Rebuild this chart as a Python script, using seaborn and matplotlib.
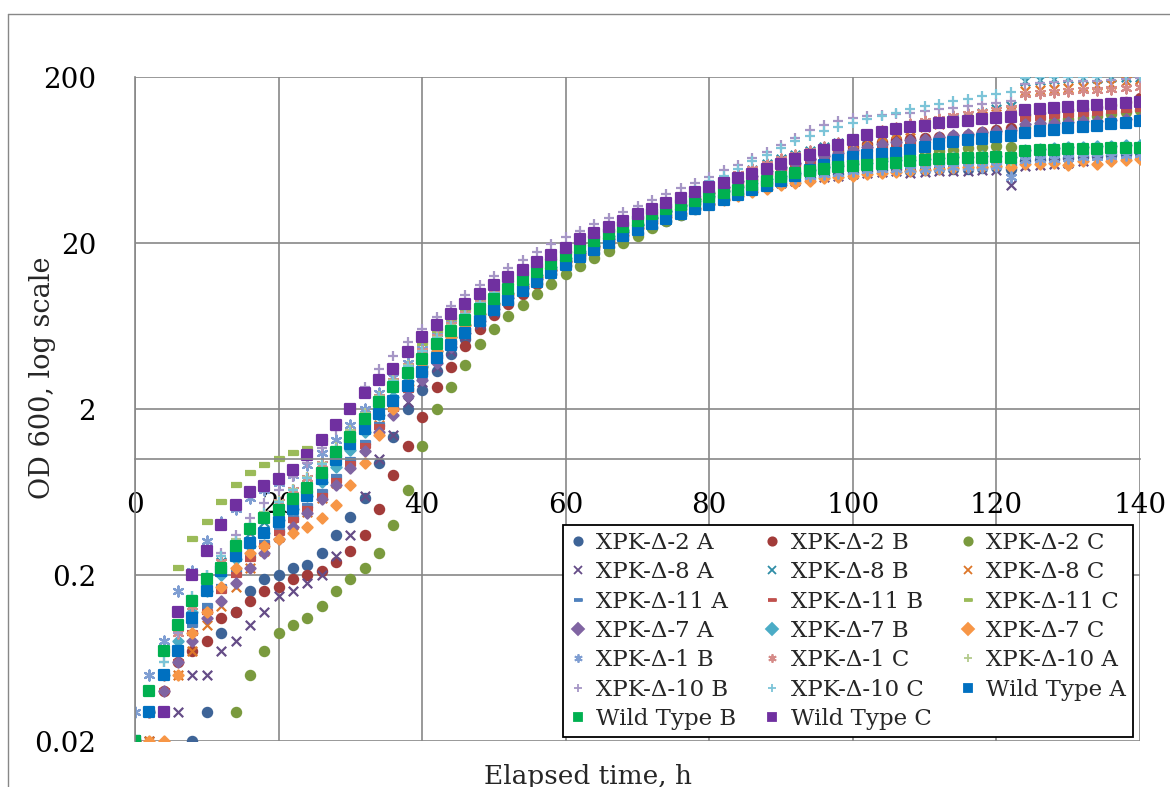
import pandas as pd
import matplotlib
matplotlib.use("Agg")
import matplotlib.pyplot as plt
import seaborn as sns
from matplotlib.ticker import NullLocator
from matplotlib.lines import Line2D

# elapsed time, h (one reading every 2 h)
hours = list(range(0, 141, 2))

# OD 600 readings (values under 0.02 fall outside the axis and are not shown)
xpk2_a = [0.01, 0.01, 0.01, 0.01, 0.02, 0.03, 0.09, 0.12, 0.16, 0.19,
          0.2, 0.22, 0.23, 0.27, 0.35, 0.45, 0.58, 0.95, 1.35, 2.0,
          2.6, 3.4, 4.3, 5.3, 6.4, 7.6, 8.8, 10, 11.5, 13,
          14.5, 16, 17.5, 19, 21, 23, 25, 27, 29.5, 32,
          34.5, 37, 39.5, 42, 44, 46, 47.5, 49, 50.5, 52,
          53, 54, 55, 55.5, 54, 55, 55.5, 56, 56, 56.5,
          57, 56, 62, 63, 64, 65, 66, 67, 68, 69,
          70]
xpk2_b = [0.02, 0.03, 0.04, 0.06, 0.07, 0.08, 0.11, 0.12, 0.14, 0.16,
          0.17, 0.19, 0.2, 0.21, 0.24, 0.28, 0.35, 0.5, 0.8, 1.2,
          1.8, 2.7, 3.6, 4.8, 6.1, 7.4, 8.6, 9.9, 11.3, 13,
          14.8, 16.5, 18.3, 20, 22, 24.5, 27, 29.5, 32, 35,
          38, 41, 44, 48, 52, 56, 60, 64, 68, 72,
          76, 79, 81, 83, 85, 86, 87, 88, 90, 93,
          96, 99, 118, 121, 123, 126, 129, 132, 136, 142,
          150]
xpk2_c = [0.01, 0.01, 0.01, 0.01, 0.01, 0.01, 0.01, 0.03, 0.05, 0.07,
          0.09, 0.1, 0.11, 0.13, 0.16, 0.19, 0.22, 0.27, 0.4, 0.65,
          1.2, 2.0, 2.7, 3.7, 4.9, 6.1, 7.3, 8.5, 9.8, 11.3,
          13, 14.5, 16.2, 18, 20, 22, 24.5, 27, 29.5, 32,
          34.5, 37, 40, 43, 46, 49, 52, 55, 57, 59,
          61, 63, 65, 66, 66, 69, 72, 73, 75, 76,
          77, 76, 100, 104, 108, 111, 114, 117, 120, 123,
          126]
xpk8_a = [0.02, 0.02, 0.03, 0.03, 0.05, 0.05, 0.07, 0.08, 0.1, 0.12,
          0.15, 0.16, 0.18, 0.2, 0.26, 0.35, 0.6, 1.0, 1.4, 2.2,
          2.9, 3.6, 4.5, 5.5, 6.5, 7.7, 9, 10.3, 11.8, 13.5,
          15.5, 17, 19, 21, 23, 25, 27, 29, 31, 33,
          35, 37.5, 40, 42, 44, 46, 47.5, 49, 50, 51,
          52, 53, 53.5, 54, 53, 53.5, 54, 54, 54.5, 55,
          55, 45, 58, 59, 60, 61, 62, 63, 65, 67,
          69]
xpk8_b = [0.02, 0.04, 0.07, 0.1, 0.14, 0.19, 0.24, 0.3, 0.36, 0.42,
          0.48, 0.56, 0.66, 0.8, 1.0, 1.3, 1.7, 2.2, 2.8, 3.5,
          4.3, 5.2, 6.2, 7.3, 8.5, 9.8, 11, 12.5, 14, 15.8,
          17.5, 19.5, 21.5, 23.5, 25.5, 28, 30.5, 33, 36, 39,
          43, 47, 51, 55, 60, 64, 68, 72, 76, 80,
          84, 88, 92, 96, 100, 104, 108, 112, 117, 122,
          128, 133, 190, 192, 195, 196, 197, 198, 199, 200,
          200]
xpk8_c = [0.02, 0.02, 0.03, 0.05, 0.07, 0.1, 0.13, 0.17, 0.22, 0.28,
          0.34, 0.4, 0.48, 0.58, 0.72, 0.92, 1.2, 1.6, 2.1, 2.7,
          3.4, 4.2, 5.1, 6.1, 7.2, 8.4, 9.7, 11, 12.5, 14,
          16, 18, 20, 22, 24, 26.5, 29, 31.5, 34, 37,
          40, 44, 48, 52, 56, 60, 64, 68, 72, 76,
          80, 84, 88, 92, 96, 100, 104, 108, 112, 116,
          120, 124, 165, 168, 170, 172, 175, 178, 182, 188,
          195]
xpk11_a = [0.02, 0.03, 0.05, 0.07, 0.1, 0.13, 0.17, 0.21, 0.26, 0.31,
           0.37, 0.44, 0.52, 0.63, 0.78, 0.98, 1.25, 1.6, 2.0, 2.6,
           3.3, 4.1, 5.0, 6.0, 7.0, 8.2, 9.4, 10.7, 12, 13.5,
           15.5, 17, 19, 21, 23, 25, 27.5, 30, 32.5, 35,
           37.5, 40, 42, 44, 46, 48, 50, 52, 53.5, 55,
           56, 57, 58, 58.5, 58, 59, 59.5, 60, 60.5, 61,
           61, 60, 66, 67, 67.5, 68, 68.5, 69, 70, 71,
           72]
xpk11_b = [0.02, 0.03, 0.04, 0.06, 0.09, 0.12, 0.16, 0.2, 0.25, 0.3,
           0.36, 0.43, 0.5, 0.6, 0.74, 0.93, 1.2, 1.55, 2.0, 2.6,
           3.3, 4.1, 5.0, 6.0, 7.1, 8.3, 9.6, 11, 12.4, 14,
           15.8, 17.5, 19.5, 21.5, 23.5, 26, 28.5, 31, 33.5, 36.5,
           39.5, 42.5, 46, 49, 52, 55, 58, 61, 64, 67,
           70, 73, 76, 78, 80, 82, 84, 86, 88, 90,
           92, 93, 112, 114, 116, 118, 120, 122, 124, 126,
           128]
xpk11_c = [0.02, 0.03, 0.07, 0.22, 0.33, 0.42, 0.55, 0.7, 0.82, 0.92,
           1.0, 1.08, 1.15, 1.3, 1.6, 2.0, 2.5, 3.0, 3.6, 4.3,
           5.0, 5.9, 6.9, 7.9, 9.0, 10.2, 11.5, 13, 14.5, 16,
           17.5, 19.5, 21.5, 23.5, 25.5, 28, 30, 32.5, 35, 37.5,
           40, 42.5, 45, 47, 49.5, 52, 54, 56, 58, 60,
           61, 62, 63, 64, 64, 65, 66, 66.5, 67, 67.5,
           68, 67, 73, 74, 74, 75, 75, 76, 76, 77,
           77]
xpk7_a = [0.02, 0.03, 0.04, 0.06, 0.08, 0.11, 0.14, 0.18, 0.22, 0.27,
          0.33, 0.39, 0.47, 0.57, 0.7, 0.88, 1.12, 1.45, 1.85, 2.4,
          3.0, 3.8, 4.7, 5.7, 6.8, 8.0, 9.3, 10.7, 12.2, 13.8,
          15.5, 17.3, 19.2, 21.2, 23.4, 25.8, 28.3, 31, 34, 37,
          40, 43.5, 47, 50.5, 54, 57.5, 61, 64, 67, 70,
          73, 76, 79, 81, 83, 85, 87, 89, 91, 93,
          95, 96, 104, 105, 106, 107, 108, 109, 110, 111,
          112]
xpk7_b = [0.02, 0.03, 0.05, 0.08, 0.12, 0.16, 0.2, 0.25, 0.3, 0.36,
          0.43, 0.5, 0.6, 0.73, 0.9, 1.13, 1.45, 1.85, 2.35, 2.95,
          3.65, 4.5, 5.4, 6.4, 7.5, 8.7, 10, 11.4, 12.8, 14.4,
          16.2, 18, 20, 22, 24, 26, 28.5, 31, 33.5, 36,
          38.5, 41, 43.5, 46, 48.5, 51, 53, 55, 57, 58.5,
          60, 61, 62, 63, 63, 64, 65, 65.5, 66, 66.5,
          67, 66, 73, 74, 75, 76, 76, 77, 77, 78,
          78]
xpk7_c = [0.02, 0.02, 0.02, 0.05, 0.09, 0.12, 0.17, 0.22, 0.27, 0.3,
          0.33, 0.36, 0.39, 0.44, 0.53, 0.7, 0.95, 1.4, 2.0, 2.8,
          3.6, 4.5, 5.4, 6.4, 7.5, 8.6, 9.8, 11, 12.4, 13.8,
          15.3, 17, 18.8, 20.6, 22.5, 24.5, 26.5, 28.5, 30.5, 32.5,
          34.5, 36.5, 38.5, 40.5, 42.5, 44.5, 46, 47.5, 49, 50,
          51, 52, 53, 53.5, 54, 55, 56, 56.5, 57, 57.5,
          58, 57, 60, 60, 61, 59, 62, 60, 62, 63,
          64]
xpk1_b = [0.03, 0.05, 0.08, 0.16, 0.21, 0.32, 0.42, 0.5, 0.58, 0.65,
          0.72, 0.8, 0.92, 1.08, 1.3, 1.6, 2.0, 2.5, 3.1, 3.8,
          4.6, 5.5, 6.5, 7.5, 8.6, 9.8, 11, 12.3, 13.7, 15.2,
          16.8, 18.5, 20.3, 22.2, 24.2, 26.3, 28.5, 30.8, 33, 35.3,
          37.5, 39.5, 41.5, 43.5, 45.5, 47.5, 49, 50.5, 52, 53,
          54, 55, 55.5, 56, 55.5, 56, 56.5, 57, 57, 57.5,
          58, 50, 63, 64, 64.5, 65, 65.5, 66, 67, 68,
          69]
xpk1_c = [0.02, 0.03, 0.05, 0.09, 0.13, 0.18, 0.24, 0.3, 0.38, 0.46,
          0.55, 0.65, 0.77, 0.93, 1.15, 1.45, 1.85, 2.35, 2.95, 3.65,
          4.5, 5.4, 6.4, 7.5, 8.7, 10, 11.4, 12.8, 14.3, 16,
          17.8, 19.8, 21.8, 24, 26.3, 28.7, 31.2, 34, 37, 40.5,
          44, 48, 52, 56, 60, 64, 68, 72, 76, 80,
          84, 89, 94, 99, 104, 108, 112, 116, 119, 123,
          127, 131, 158, 160, 162, 164, 166, 168, 170, 172,
          174]
xpk10_a = [0.02, 0.03, 0.06, 0.1, 0.15, 0.2, 0.26, 0.33, 0.4, 0.48,
           0.56, 0.66, 0.78, 0.95, 1.18, 1.5, 1.9, 2.4, 3.0, 3.7,
           4.5, 5.4, 6.4, 7.5, 8.7, 10, 11.4, 12.9, 14.5, 16.2,
           18, 20, 22, 24, 26, 28.2, 30.4, 32.7, 35, 37.3,
           39.6, 42, 44.3, 46.6, 49, 51, 53, 55, 57, 59,
           60.5, 62, 63, 64, 64, 65, 65.5, 66, 66.5, 67,
           67, 62, 72, 73, 73.5, 74, 74.5, 75, 75.5, 76,
           76]
xpk10_b = [0.02, 0.03, 0.05, 0.09, 0.14, 0.2, 0.27, 0.35, 0.44, 0.54,
           0.65, 0.78, 0.95, 1.17, 1.5, 2.0, 2.7, 3.5, 4.2, 5.1,
           6.1, 7.2, 8.4, 9.7, 11.1, 12.6, 14.2, 15.9, 17.7, 19.6,
           21.6, 23.7, 25.9, 28.2, 30.7, 33.3, 36.2, 39.3, 42.6, 46.2,
           50, 55, 59, 65, 71, 78, 86, 96, 103, 108,
           113, 116, 118, 120, 122, 125, 128, 131, 134, 137,
           140, 143, 182, 184, 186, 188, 189, 190, 192, 194,
           196]
xpk10_c = [0.02, 0.03, 0.06, 0.1, 0.15, 0.2, 0.26, 0.32, 0.39, 0.47,
           0.55, 0.65, 0.77, 0.93, 1.15, 1.45, 1.85, 2.35, 2.95, 3.65,
           4.45, 5.35, 6.35, 7.45, 8.65, 9.95, 11.3, 12.8, 14.4, 16.1,
           17.9, 19.8, 21.8, 24, 26.4, 29, 31.8, 34.8, 38, 42,
           47, 51, 56, 62, 68, 75, 82, 88, 94, 100,
           106, 111, 116, 122, 128, 133, 138, 143, 148, 153,
           158, 163, 198, 199, 200, 200, 201, 201, 202, 202,
           203]
wild_a = [0.02, 0.03, 0.05, 0.07, 0.11, 0.16, 0.21, 0.26, 0.31, 0.36,
          0.42, 0.5, 0.6, 0.76, 0.98, 1.23, 1.52, 1.86, 2.25, 2.75,
          3.35, 4.05, 4.85, 5.75, 6.75, 7.85, 9.05, 10.3, 11.7, 13.2,
          14.8, 16.5, 18.2, 20, 22, 24, 26, 28, 30, 32,
          34, 36.5, 39, 41.5, 44, 47, 51, 55, 59, 63,
          66, 68, 69, 70, 73, 76, 79, 81, 83, 85,
          87, 88, 92, 94, 96, 98, 100, 102, 104, 106,
          108]
wild_b = [0.02, 0.04, 0.07, 0.1, 0.14, 0.19, 0.22, 0.3, 0.38, 0.44,
          0.49, 0.57, 0.67, 0.82, 1.1, 1.35, 1.75, 2.2, 2.7, 3.3,
          4.0, 4.9, 5.9, 6.9, 8.0, 9.2, 10.5, 11.9, 13.4, 15,
          16.8, 18.7, 20.7, 22.8, 25, 27.3, 29.7, 32, 34, 36,
          38, 40, 42, 44.5, 47, 50, 52.5, 54.5, 56, 57,
          58, 59, 60, 61, 62, 63, 64, 64.5, 65, 65,
          65.5, 65, 72, 72.5, 73, 73.5, 74, 74, 74.5, 75,
          75]
wild_c = [0.01, 0.01, 0.03, 0.12, 0.2, 0.28, 0.4, 0.53, 0.63, 0.69,
          0.76, 0.86, 1.05, 1.3, 1.6, 2.0, 2.5, 3.0, 3.5, 4.4,
          5.4, 6.4, 7.5, 8.6, 9.8, 11.1, 12.4, 13.8, 15.3, 16.9,
          18.6, 21, 23, 25, 27.3, 29.7, 32.2, 34.8, 37.5, 40.3,
          43.2, 46, 49, 52, 56, 60, 64, 68, 73, 78,
          84, 89, 93, 97, 100, 102, 105, 107, 109, 111,
          113, 115, 127, 128, 130, 132, 134, 135, 137, 139,
          141]

strains = ["XPK-Δ-2 A", "XPK-Δ-2 B", "XPK-Δ-2 C",
           "XPK-Δ-8 A", "XPK-Δ-8 B", "XPK-Δ-8 C",
           "XPK-Δ-11 A", "XPK-Δ-11 B", "XPK-Δ-11 C",
           "XPK-Δ-7 A", "XPK-Δ-7 B", "XPK-Δ-7 C",
           "XPK-Δ-1 B", "XPK-Δ-1 C", "XPK-Δ-10 A",
           "XPK-Δ-10 B", "XPK-Δ-10 C", "Wild Type A",
           "Wild Type B", "Wild Type C"]
readings = [xpk2_a, xpk2_b, xpk2_c, xpk8_a, xpk8_b, xpk8_c,
            xpk11_a, xpk11_b, xpk11_c, xpk7_a, xpk7_b, xpk7_c,
            xpk1_b, xpk1_c, xpk10_a, xpk10_b, xpk10_c,
            wild_a, wild_b, wild_c]

colors = ["#3E6497", "#A23B39", "#7A9A3E", "#654C87", "#2F8DA6", "#DD7628",
          "#4F81BD", "#C0504D", "#9BBB59", "#8064A2", "#4BACC6", "#F79646",
          "#7F9ED2", "#D58B88", "#B3CA8C", "#A696C6", "#7CC4D8",
          "#0070C0", "#00B050", "#7030A0"]
dash = [(-1, -0.32), (1, -0.32), (1, 0.32), (-1, 0.32)]
star = (6, 2, 0)
markers = ["o", "o", "o", "x", "x", "x", dash, dash, dash, "D", "D", "D",
           star, star, "+", "+", "+", "s", "s", "s"]
msize = {"o": 44, "x": 46, "D": 27, "+": 62, "s": 44, "dash": 58, "star": 52}

df = pd.DataFrame({
    "hours": hours * len(strains),
    "od": [v for r in readings for v in r],
    "strain": [s for s in strains for _ in hours],
})

sns.set_theme(style="white")
plt.rcParams["font.family"] = ["DejaVu Serif", "DejaVu Sans"]

fig = plt.figure(figsize=(11.7, 7.87), dpi=100)
ax = fig.add_axes([135 / 1170, 1 - 741 / 787, 1005 / 1170, 664 / 787])

for name, col, mk in zip(strains, colors, markers):
    sub = df[df["strain"] == name]
    key = mk if isinstance(mk, str) else ("dash" if isinstance(mk, list) else "star")
    sns.scatterplot(data=sub, x="hours", y="od", ax=ax, color=col, marker=mk,
                    s=msize[key], edgecolor=col, linewidth=1.6, legend=False)

grid_col = "#878787"
ax.set_yscale("log")
ax.set_xlim(0, 140)
ax.set_ylim(0.02, 200)
ax.set_xticks(range(0, 141, 20))
ax.set_yticks([0.02, 0.2, 2, 20, 200])
ax.set_yticklabels(["0.02", "0.2", "2", "20", "200"])
ax.yaxis.set_minor_locator(NullLocator())
ax.grid(True, color=grid_col, linewidth=1.2)
ax.set_axisbelow(True)
ax.set_xlabel("")
ax.set_ylabel("")
ax.tick_params(axis="both", length=0, labelsize=20, colors="black")
ax.tick_params(axis="x", pad=24)
ax.tick_params(axis="y", pad=28)
for side in ["top", "right"]:
    ax.spines[side].set_visible(False)
ax.spines["left"].set_color(grid_col)
ax.spines["left"].set_linewidth(1.2)
ax.spines["bottom"].set_position(("data", 1))
ax.spines["bottom"].set_color(grid_col)
ax.spines["bottom"].set_linewidth(1.2)

fig.text(43 / 1170, 1 - 378 / 787, "OD 600, log scale", rotation=90,
         ha="center", va="center", fontsize=19.5)
fig.text(588 / 1170, 1 - 764 / 787, "Elapsed time, h", ha="center", va="top",
         fontsize=19)

# outer chart border
fig.add_artist(Line2D([8 / 1170, 8 / 1170], [0, 1 - 14 / 787],
                      transform=fig.transFigure, color=grid_col, lw=1))
fig.add_artist(Line2D([8 / 1170, 1], [1 - 14 / 787, 1 - 14 / 787],
                      transform=fig.transFigure, color=grid_col, lw=1))

# legend, filled row by row like the original
proxies = []
for name, col, mk in zip(strains, colors, markers):
    filled = mk in ("o", "D", "s") or isinstance(mk, list)
    proxies.append(Line2D([], [], linestyle="none", marker=mk, color=col,
                          markerfacecolor=col if filled else "none",
                          markeredgecolor=col, markersize=6, markeredgewidth=1.3))
order = []
for c in range(3):
    order += list(range(c, len(strains), 3))
leg = ax.legend([proxies[i] for i in order], [strains[i] for i in order],
                ncol=3, loc="lower left",
                bbox_to_anchor=(0.4259, 0.006, 0.567, 0.324), mode="expand",
                borderaxespad=0, fontsize=16.5, handlelength=0.7,
                handletextpad=0.45, labelspacing=0.32, borderpad=0.3,
                columnspacing=0.3, frameon=True, fancybox=False)
leg.get_frame().set_edgecolor("black")
leg.get_frame().set_linewidth(1.3)
leg.get_frame().set_facecolor("white")
leg.get_frame().set_alpha(1)

fig.savefig("out.png", dpi=100)
